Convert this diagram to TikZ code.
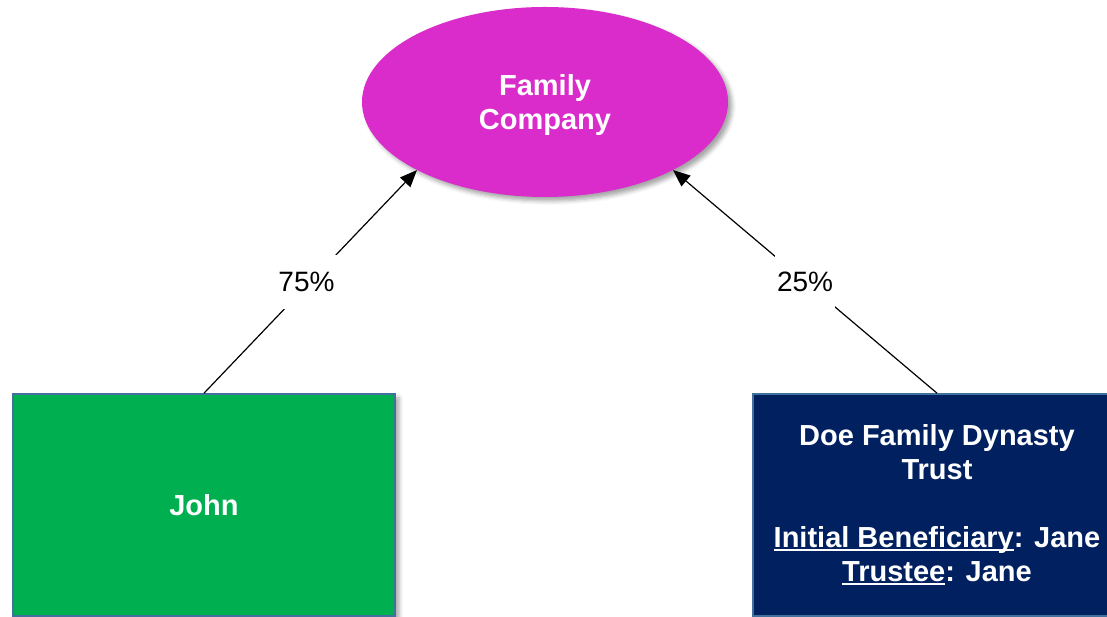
\documentclass[tikz,border=0pt]{standalone}
\usepackage{fontspec}
\setmainfont{Liberation Sans}
\usetikzlibrary{arrows.meta,shapes.geometric,shadows.blur}

\definecolor{famcol}{RGB}{217,44,203}
\definecolor{johncol}{RGB}{0,176,80}
\definecolor{trustcol}{RGB}{0,32,96}
\definecolor{edgecol}{RGB}{65,113,156}

\newcommand{\undl}[1]{\setbox0\hbox{#1}\rlap{\rule[-3.5pt]{\wd0}{1.8pt}}\box0}

\begin{document}
\begin{tikzpicture}[x=1pt,y=1pt,
    boxfont/.style={text=white, align=center, font=\fontsize{29}{34}\selectfont\bfseries},
    shade/.style={blur shadow={shadow xshift=4pt, shadow yshift=-4pt, shadow blur radius=4pt, shadow opacity=35}},
    owner/.style={boxfont, shade, draw=edgecol, line width=1.6pt, minimum width=382pt, minimum height=222pt, inner sep=0pt},
    share/.style={-{Triangle[length=17pt,width=14pt]}, line width=1.2pt},
    pct/.style={fill=white, inner sep=2pt, minimum height=54pt, font=\fontsize{28}{34}\selectfont}]
  \useasboundingbox (0,0) rectangle (1107,617);

  % company at the top
  \node[ellipse, boxfont, shade, fill=famcol, minimum width=366pt, minimum height=190pt, inner sep=0pt, text depth=0pt] (fam) at (545,515) {Family\\Company};

  % the two owners
  \node[owner, fill=johncol] (john) at (204,112) {John};
  \node[owner, fill=trustcol, minimum width=368pt] (trust) at (937,112)
    {Doe Family Dynasty\\Trust\\[34pt]\undl{Initial Beneficiary}: Jane\\\undl{Trustee}: Jane};

  % shares
  \draw[share] (john.north) -- node[pct, xshift=-4pt] {75\%} (fam.208);
  \draw[share] (trust.north) -- node[pct] {25\%} (fam.332);
\end{tikzpicture}
\end{document}
